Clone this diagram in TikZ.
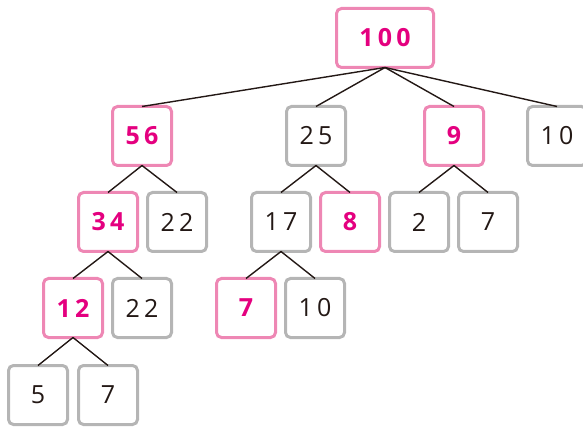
\documentclass[tikz,border=0pt]{standalone}
\usepackage{fontspec}
\setmainfont{Open Sans}
\definecolor{pinkline}{HTML}{EE87B4}
\definecolor{pinktext}{HTML}{E4007F}
\definecolor{grayline}{HTML}{B5B5B5}
\definecolor{darktext}{HTML}{231815}
\tikzset{
  box/.style={draw=grayline, line width=3pt, rounded corners=5pt, minimum width=59pt, minimum height=59pt, inner sep=0pt, text=darktext, font=\fontsize{25}{25}\selectfont},
  hbox/.style={box, draw=pinkline, text=pinktext, font=\fontsize{25}{25}\selectfont\bfseries},
  edge/.style={draw=darktext, line width=1.4pt}
}
\begin{document}
\begin{tikzpicture}[x=1pt,y=-1pt]
\useasboundingbox (0,0) rectangle (583,427);
\node[hbox, minimum width=97pt] (n100) at (385,38) {1\,0\,0};
\node[hbox] (n56) at (142,136) {5\,6};
\node[box] (n25) at (316,136) {2\,5};
\node[hbox] (n9) at (454,136) {9};
\node[box] (n10a) at (557,136) {1\,0};
\node[hbox] (n34) at (108,222) {3\,4};
\node[box] (n22a) at (177,222) {2\,2};
\node[box] (n17) at (281,222) {1\,7};
\node[hbox] (n8) at (350,222) {8};
\node[box] (n2) at (419,222) {2};
\node[box] (n7a) at (488,222) {7};
\node[hbox] (n12) at (73,308) {1\,2};
\node[box] (n22b) at (142,308) {2\,2};
\node[hbox] (n7b) at (246,308) {7};
\node[box] (n10b) at (315,308) {1\,0};
\node[box] (n5) at (38,395) {5};
\node[box] (n7c) at (108,395) {7};
\foreach \p/\c in {n100/n56,n100/n25,n100/n9,n100/n10a,n56/n34,n56/n22a,n25/n17,n25/n8,n9/n2,n9/n7a,n34/n12,n34/n22b,n17/n7b,n17/n10b,n12/n5,n12/n7c}
  \draw[edge] ([yshift=1.5pt]\p.south) -- ([yshift=-1.5pt]\c.north);
\end{tikzpicture}
\end{document}
